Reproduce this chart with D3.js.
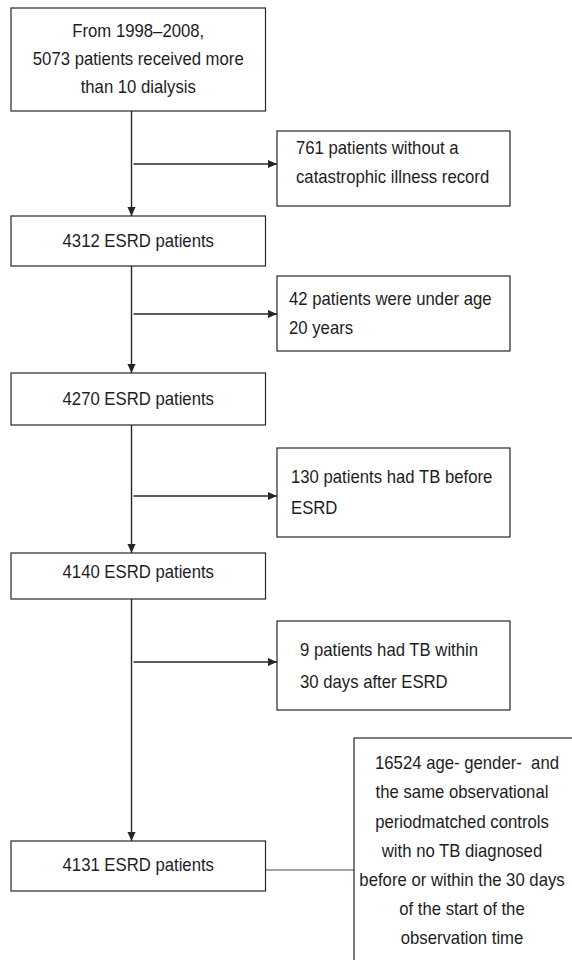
<!DOCTYPE html>
<html><head><meta charset="utf-8">
<script src="https://cdn.jsdelivr.net/npm/d3@7/dist/d3.min.js"></script>
<style>
html,body{margin:0;padding:0;background:#fff;}
svg{display:block;}
text{font-family:"Liberation Sans",Arial,Helvetica,sans-serif;font-size:17.5px;fill:#1e1c1d;white-space:pre;}
</style></head>
<body>
<svg id="chart" width="572" height="960"></svg>
<script>
// ---- data ----
const mainSteps = [
  ["From 1998\u20132008,", "5073 patients received more", "than 10 dialysis"],
  ["4312 ESRD patients"],
  ["4270 ESRD patients"],
  ["4140 ESRD patients"],
  ["4131 ESRD patients"]
];
const exclusions = [
  ["761 patients without a", "catastrophic illness record"],
  ["42 patients were under age", "20 years"],
  ["130 patients had TB before", "ESRD"],
  ["9 patients had TB within", "30 days after ESRD"]
];
const controls = [
  "16524 age- gender-  and",
  "the same observational",
  "periodmatched controls",
  "with no TB diagnosed",
  "before or within the 30 days",
  "of the start of the",
  "observation time"
];

// ---- layout (positions kept separate from data) ----
const mainBox = {x0: 11, x1: 265.5};
const mainY = [[8,111],[216,266],[373,425],[553,599],[841,891]];
const mainLineY0 = [31, 241, 399, 572, 865];
const mainLineGap = 28;
const lineX = 131.5;
const sideBox = {x0: 277, x1: 510};
const sideY = [[131,206],[276,351],[448,537],[621,710]];
const sideTextX = [296, 289, 291, 300];
const sideLineY = [[148,177],[299,328],[477,508],[650,682]];
const sideArrowY = [164, 314, 496, 662];
const ctrlBox = {x0: 354, x1: 574, y0: 738, y1: 970};
const ctrlLineY0 = 763, ctrlLineGap = 29.2;
const connectY = 870;

const stroke = "#262626";
const svg = d3.select("#chart");
const fs = 17.5, baseOff = 0.35*fs, sx = 0.955;

function addText(sel, x, y, t, anchor){
  sel.append("text")
    .attr("transform", `translate(${x},${y}) scale(${sx},1)`)
    .attr("text-anchor", anchor || "start")
    .text(t);
}

svg.append("defs").append("marker")
  .attr("id","arr").attr("viewBox","0 0 10 10").attr("refX",10).attr("refY",5)
  .attr("markerWidth",9).attr("markerHeight",10).attr("markerUnits","userSpaceOnUse")
  .attr("orient","auto")
  .append("path").attr("d","M0,0.5L10,5L0,9.5Z").attr("fill",stroke);

const g = svg.append("g");

// main vertical arrows
for (let i=0;i<mainSteps.length-1;i++){
  g.append("line").attr("x1",lineX).attr("x2",lineX)
    .attr("y1",mainY[i][1]).attr("y2",mainY[i+1][0])
    .attr("stroke",stroke).attr("stroke-width",1.4)
    .attr("marker-end","url(#arr)");
}
// side arrows
exclusions.forEach((d,i)=>{
  g.append("line").attr("x1",lineX+2).attr("x2",sideBox.x0)
    .attr("y1",sideArrowY[i]).attr("y2",sideArrowY[i])
    .attr("stroke",stroke).attr("stroke-width",1.4)
    .attr("marker-end","url(#arr)");
});
// connector to controls
g.append("line").attr("x1",mainBox.x1).attr("x2",ctrlBox.x0)
  .attr("y1",connectY).attr("y2",connectY)
  .attr("stroke","#444").attr("stroke-width",1.1);

// main boxes
const mb = g.selectAll("g.main").data(mainSteps).join("g").attr("class","main");
mb.append("rect")
  .attr("x",mainBox.x0).attr("width",mainBox.x1-mainBox.x0)
  .attr("y",(d,i)=>mainY[i][0]).attr("height",(d,i)=>mainY[i][1]-mainY[i][0])
  .attr("fill","#fff").attr("stroke",stroke).attr("stroke-width",1.2);
mb.each(function(d,i){
  const sel = d3.select(this);
  d.forEach((t,j)=> addText(sel,(mainBox.x0+mainBox.x1)/2, mainLineY0[i]+j*mainLineGap+baseOff, t, "middle"));
});

// side boxes
const sb = g.selectAll("g.side").data(exclusions).join("g").attr("class","side");
sb.append("rect")
  .attr("x",sideBox.x0).attr("width",sideBox.x1-sideBox.x0)
  .attr("y",(d,i)=>sideY[i][0]).attr("height",(d,i)=>sideY[i][1]-sideY[i][0])
  .attr("fill","#fff").attr("stroke",stroke).attr("stroke-width",1.2);
sb.each(function(d,i){
  const sel = d3.select(this);
  d.forEach((t,j)=> addText(sel, sideTextX[i], sideLineY[i][j]+baseOff, t));
});

// controls box
g.append("rect").attr("x",ctrlBox.x0).attr("y",ctrlBox.y0)
  .attr("width",ctrlBox.x1-ctrlBox.x0).attr("height",ctrlBox.y1-ctrlBox.y0)
  .attr("fill","#fff").attr("stroke",stroke).attr("stroke-width",1.2);
controls.forEach((t,j)=> addText(g, 462 + (j===0?5:0), ctrlLineY0+j*ctrlLineGap+baseOff, t, "middle"));
</script>
</body></html>
